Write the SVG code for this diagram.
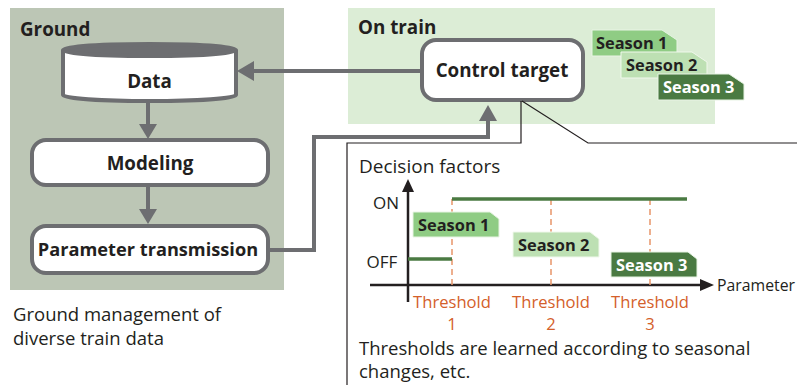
<svg xmlns="http://www.w3.org/2000/svg" width="797" height="385" viewBox="0 0 797 385">
<defs>
<style>
.t{font-family:"Open Sans","Noto Sans","Liberation Sans",sans-serif;fill:#231f20}
.b{font-weight:bold}
.box{fill:#fff;stroke:#6d6e71;stroke-width:4}
.gl{fill:none;stroke:#6d6e71;stroke-width:4}
.gh{fill:#6d6e71}
.cl{fill:none;stroke:#231f20;stroke-width:1.2}
.ax{fill:none;stroke:#231f20;stroke-width:2.5}
.on{fill:none;stroke:#4a7a42;stroke-width:3.5}
.dash{fill:none;stroke:#e8956a;stroke-width:1.5;stroke-dasharray:6 4}
.thr{font-family:"Open Sans","Noto Sans","Liberation Sans",sans-serif;fill:#d4602a;font-size:16.6px;text-anchor:middle}
.s1{fill:#8fcc84;stroke:#e8f4e4;stroke-width:1}
.s2{fill:#bde0b3;stroke:#f0f8ec;stroke-width:1}
.s3{fill:#4a7a42;stroke:#e8f4e4;stroke-width:1}
</style>
</defs>
<g id="ground-panel">
<rect x="10" y="8" width="274" height="282" fill="#bcc6b5"/>
<text class="t b" x="20" y="36" font-size="18.8">Ground</text>
</g>
<g id="train-panel">
<rect x="348" y="8" width="367" height="116" fill="#dcedd6"/>
<text class="t b" x="358" y="34" font-size="18.8">On train</text>
</g>
<g id="data">
<path d="M63,50 L63,95 A86.5,6 0 0 0 236,95 L236,50" fill="#fff" stroke="#6d6e71" stroke-width="4"/>
<ellipse cx="149.5" cy="50" rx="86.5" ry="6" fill="#6d6e71" stroke="#6d6e71" stroke-width="4"/>
<text class="t b" x="149.5" y="88" font-size="18.8" text-anchor="middle">Data</text>
</g>
<g id="modeling">
<rect class="box" x="32" y="140" width="236" height="45" rx="14"/>
<text class="t b" x="150" y="170" font-size="18.8" text-anchor="middle">Modeling</text>
</g>
<g id="param">
<rect class="box" x="32" y="226" width="236" height="47" rx="14"/>
<text class="t b" x="148" y="256" font-size="18.2" text-anchor="middle">Parameter transmission</text>
</g>
<g id="control">
<rect class="box" x="422" y="40" width="161" height="60" rx="14"/>
<text class="t b" x="502" y="77" font-size="18.8" text-anchor="middle">Control target</text>
</g>
<g id="seasons-top">
<polygon class="s1" points="592,30 662,30 677,40 677,56 592,56"/>
<text class="t b" x="596" y="49" font-size="16.4">Season 1</text>
<polygon class="s2" points="621,52 692,52 707,62 707,78 621,78"/>
<text class="t b" x="626" y="71" font-size="16.4">Season 2</text>
<polygon class="s3" points="658,74 729,74 744,84 744,100 658,100"/>
<text class="t b" x="663" y="93" font-size="16.4" style="fill:#fff">Season 3</text>
</g>
<g id="connectors">
<line class="gl" x1="148" y1="101" x2="148" y2="125"/>
<polygon class="gh" points="139,124 157,124 148,139"/>
<line class="gl" x1="148" y1="185" x2="148" y2="210"/>
<polygon class="gh" points="139,209 157,209 148,224"/>
<line class="gl" x1="422" y1="71" x2="252" y2="71"/>
<polygon class="gh" points="254,61 254,81 237,71"/>
<polyline class="gl" points="268,250 314,250 314,137 488,137 488,119"/>
<polygon class="gh" points="479,121 497,121 488,105"/>
<polyline class="cl" points="347,385 347,143 521,143 521,101"/>
<polyline class="cl" points="522,101 588,143 797,143"/>
</g>
<g id="chart">
<text class="t" x="359" y="173" font-size="19">Decision factors</text>
<line class="ax" x1="408" y1="302" x2="408" y2="190"/>
<polygon fill="#231f20" points="402,192 414,192 408,179"/>
<line class="ax" x1="370" y1="285" x2="702" y2="285"/>
<polygon fill="#231f20" points="700,279 700,291 714,285"/>
<text class="t" x="717" y="291" font-size="15.8">Parameter</text>
<text class="t" x="386" y="209" font-size="17" text-anchor="middle">ON</text>
<text class="t" x="382" y="268" font-size="17" text-anchor="middle">OFF</text>
<line class="dash" x1="452" y1="199" x2="452" y2="285"/>
<line class="dash" x1="551" y1="199" x2="551" y2="285"/>
<line class="dash" x1="650" y1="199" x2="650" y2="285"/>
<line class="on" x1="452" y1="199" x2="687" y2="199"/>
<line class="on" x1="408" y1="259" x2="452" y2="259"/>
<polygon class="s1" points="413,212 490,212 499,219 499,237 413,237"/>
<text class="t b" x="418" y="231" font-size="16.4">Season 1</text>
<polygon class="s2" points="513,232 590,232 599,239 599,257 513,257"/>
<text class="t b" x="518" y="251" font-size="16.4">Season 2</text>
<polygon class="s3" points="611,252 688,252 697,259 697,277 611,277"/>
<text class="t b" x="616" y="271" font-size="16.4" style="fill:#fff">Season 3</text>
<text class="thr" x="452" y="307.5">Threshold</text>
<text class="thr" x="452" y="329.5">1</text>
<text class="thr" x="551" y="307.5">Threshold</text>
<text class="thr" x="551" y="329.5">2</text>
<text class="thr" x="650" y="307.5">Threshold</text>
<text class="thr" x="650" y="329.5">3</text>
<text class="t" x="359" y="354.5" font-size="18.5">Thresholds are learned according to seasonal</text>
<text class="t" x="359" y="377.5" font-size="18.5">changes, etc.</text>
</g>
<g id="caption">
<text class="t" x="13" y="321" font-size="18.5">Ground management of</text>
<text class="t" x="13" y="345" font-size="18.5">diverse train data</text>
</g>
</svg>
